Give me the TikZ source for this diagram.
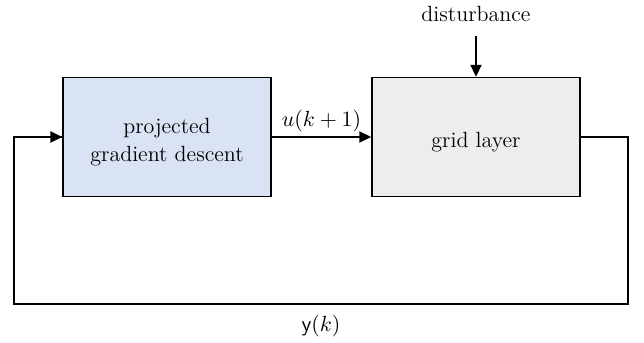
\documentclass[tikz,border=0pt]{standalone}
\usetikzlibrary{arrows.meta}
\definecolor{boxblue}{HTML}{DAE3F3}
\definecolor{boxgray}{HTML}{EDEDED}
\begin{document}
\begin{tikzpicture}[x=0.5pt,y=-0.5pt,
  blockbox/.style={draw=black,line width=0.75pt,minimum width=104pt,minimum height=59.5pt,inner sep=0pt},
  boxtext/.style={label={[align=center,inner sep=0pt,yshift=-2.5pt,font=\fontsize{11}{14}\selectfont]center:#1}},
  sig/.style={line width=1.1pt,-{Triangle[length=6pt,width=5.5pt]}},
  loopline/.style={line width=1.4pt},
  lbl/.style={font=\fontsize{11}{13}\selectfont,inner sep=0pt}]
\useasboundingbox (0,0) rectangle (644,343);
\node[blockbox,fill=boxblue,boxtext={projected\\gradient descent}] (pgd) at (167,137) {};
\node[blockbox,fill=boxgray,boxtext={grid layer}] (grid) at (476,137) {};
\node[lbl] (dist) at (476,14) {disturbance};
\coordinate (dtop) at (476,36);
\coordinate (br) at (628,304);
\coordinate (bl) at (14,304);
\draw[sig] (dtop) -- (grid.north);
\draw[sig] (pgd.east) -- node[lbl,above=2pt] (u) {$u(k+1)$} (grid.west);
\draw[loopline] (grid.east) -| (br) -- node[lbl,below=5pt] (y) {\textsf{y}$(k)$} (bl) |- (pgd.west);
\draw[sig,line width=1.4pt] (14,150) |- (pgd.west);
\end{tikzpicture}
\end{document}
